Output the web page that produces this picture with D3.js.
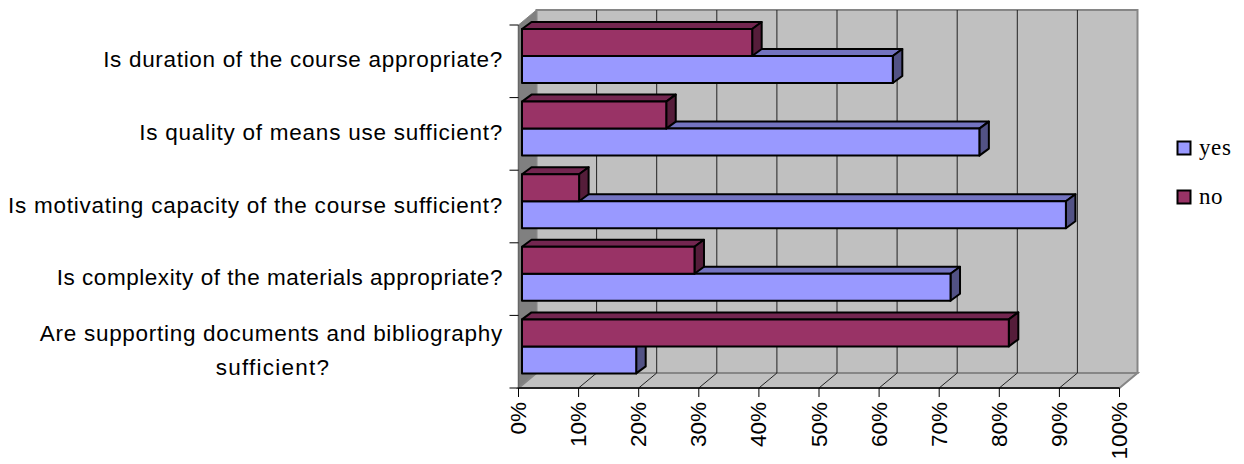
<!DOCTYPE html>
<html><head><meta charset="utf-8">
<script src="https://cdn.jsdelivr.net/npm/d3@7"></script>
<style>html,body{margin:0;background:#fff}svg{display:block}</style>
</head><body><svg id="c" width="1244" height="464"></svg>
<script>
// Course evaluation survey: share of yes / no answers per question
const categories = [
  ["Is duration of the course appropriate?"],
  ["Is quality of means use sufficient?"],
  ["Is motivating capacity of the course sufficient?"],
  ["Is complexity of the materials appropriate?"],
  ["Are supporting documents and bibliography", "sufficient?"]
];
const yesValues = [61.7, 76.1, 90.5, 71.3, 19];
const noValues = [38.3, 24, 9.5, 28.7, 81];
const ticks = [0,10,20,30,40,50,60,70,80,90,100];
const seriesNames = ["yes","no"];
const fills = {yes:{front:"#9999ff",top:"#7373c0",side:"#525285"},no:{front:"#993366",top:"#732650",side:"#551d3a"}};

const svg = d3.select("#c");
const L=518.5,R=1119.5,T=25,B=388,DX=18,DY=15;
const x = d3.scaleLinear().domain([0,100]).range([L,R]);
const y = d3.scaleBand().domain(d3.range(categories.length)).range([T,B]);
const pts = a => a.map(p=>p.join(",")).join(" ");
const wall="#c0c0c0", edge="#868686";
const SANS="Liberation Sans", SIZE=22.5;
// per-line letter spacing for the question labels
const tracking=[[0.68],[0.76],[0.76],[0.55],[0.71,1.25]];

// chart walls and floor
svg.append("polygon").attr("points",pts([[L+DX,T-DY],[R+DX,T-DY],[R+DX,B-DY],[L+DX,B-DY]])).attr("fill",wall).attr("stroke",edge).attr("stroke-width",2);
svg.append("polygon").attr("points",pts([[L,T],[L+DX,T-DY],[L+DX,B-DY],[L,B]])).attr("fill","#808080").attr("stroke",edge).attr("stroke-width",1);
svg.append("polygon").attr("points",pts([[L,B],[L+DX,B-DY],[R+DX,B-DY],[R,B]])).attr("fill",wall).attr("stroke",edge).attr("stroke-width",2);

// gridlines run across the back wall and down the floor
ticks.slice(1,-1).forEach(t=>{
  svg.append("polyline").attr("points",pts([[x(t)+DX,T-DY],[x(t)+DX,B-DY],[x(t),B]])).attr("fill","none").attr("stroke","#222").attr("stroke-width",1);
});

// axes
svg.append("line").attr("x1",L).attr("x2",L).attr("y1",T).attr("y2",B).attr("stroke","#666").attr("stroke-width",1.5);
svg.append("line").attr("x1",L).attr("x2",R).attr("y1",B).attr("y2",B).attr("stroke","#000").attr("stroke-width",1.5);
d3.range(categories.length+1).forEach(i=>{
  const yy=T+i*y.step();
  svg.append("line").attr("x1",L-9).attr("x2",L).attr("y1",yy).attr("y2",yy).attr("stroke","#000");
});
const xAxis = svg.selectAll("g.xt").data(ticks).join("g").attr("transform",d=>`translate(${x(d)},${B})`);
xAxis.append("line").attr("y2",9).attr("stroke","#000");
xAxis.append("text").text(d=>d+"%").attr("transform","translate(7.5,14) rotate(-90)").attr("text-anchor","end")
  .attr("font-family",SANS).attr("font-size",SIZE).attr("fill","#000");

// 3D bar: front face, top face and right side
const BX=9.5,BY=7,X0=L+3.5;
const w = d3.scaleLinear().domain([0,100]).range([0,R-L]);
function bar(g,v,top,h,c){
  const xe=X0+w(v);
  const add=(p,f)=>g.append("polygon").attr("points",pts(p)).attr("fill",f).attr("stroke","#000").attr("stroke-width",2).attr("stroke-linejoin","round");
  add([[X0,top],[X0+BX,top-BY],[xe+BX,top-BY],[xe,top]],c.top);
  add([[xe,top],[xe+BX,top-BY],[xe+BX,top+h-BY],[xe,top+h]],c.side);
  add([[X0,top],[xe,top],[xe,top+h],[X0,top+h]],c.front);
}
categories.forEach((c,i)=>{
  const g=svg.append("g");
  const h=27, base=y(i)+4;
  bar(g,yesValues[i],base+h,h,fills.yes);
  bar(g,noValues[i],base,h,fills.no);
});

// question labels
const label=(s,xx,yy,anchor,track)=>svg.append("text").text(s).attr("x",xx).attr("y",yy).attr("text-anchor",anchor)
  .attr("font-family",SANS).attr("font-size",SIZE).attr("letter-spacing",track).attr("fill","#000");
categories.forEach((lines,i)=>{
  const cy=y(i)+y.bandwidth()/2;
  if(lines.length===1){
    label(lines[0],503,cy+6,"end",tracking[i][0]);
  } else {
    label(lines[0],503,cy-11,"end",tracking[i][0]);
    label(lines[1],273,cy+23,"middle",tracking[i][1]);
  }
});

// legend
seriesNames.forEach((n,i)=>{
  const yy=148+i*49;
  svg.append("rect").attr("x",1177.5).attr("y",yy-6.5).attr("width",13).attr("height",13).attr("fill",fills[n].front).attr("stroke","#000").attr("stroke-width",2);
  svg.append("text").text(n).attr("x",1199).attr("y",yy+6.5).attr("font-family","Liberation Serif").attr("font-size",23).attr("letter-spacing",0.6).attr("fill","#000");
});
</script></body></html>
